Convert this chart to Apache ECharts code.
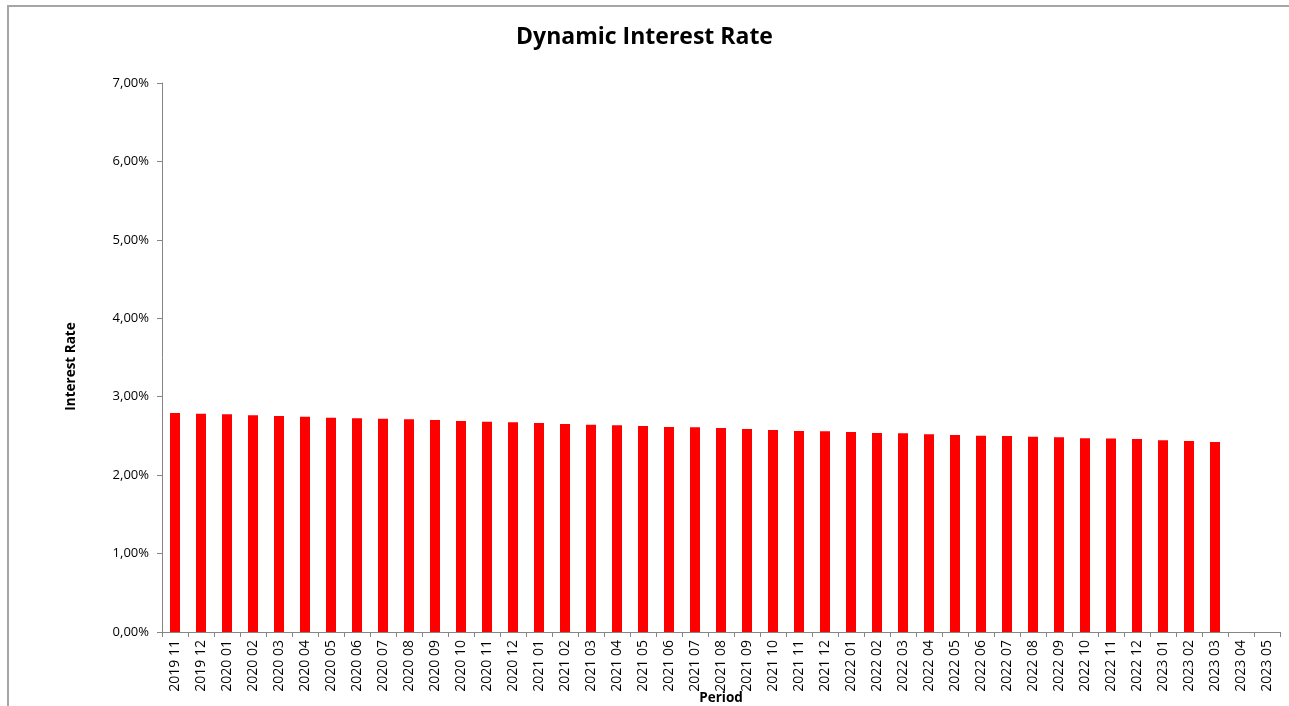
<!DOCTYPE html>
<html>
<head>
<meta charset="utf-8">
<script src="https://cdn.jsdelivr.net/npm/echarts@6/dist/echarts.min.js"></script>
<style>html,body{margin:0;padding:0;background:#fff}#c{width:1289px;height:706px}</style>
</head>
<body>
<div id="c"></div>
<script>
var categories = ["2019 11","2019 12","2020 01","2020 02","2020 03","2020 04","2020 05","2020 06","2020 07","2020 08","2020 09","2020 10","2020 11","2020 12","2021 01","2021 02","2021 03","2021 04","2021 05","2021 06","2021 07","2021 08","2021 09","2021 10","2021 11","2021 12","2022 01","2022 02","2022 03","2022 04","2022 05","2022 06","2022 07","2022 08","2022 09","2022 10","2022 11","2022 12","2023 01","2023 02","2023 03","2023 04","2023 05"];
var rates = [2.792,2.783,2.776,2.763,2.754,2.745,2.732,2.727,2.720,2.712,2.703,2.691,2.682,2.674,2.665,2.652,2.643,2.635,2.627,2.614,2.610,2.601,2.588,2.576,2.563,2.559,2.550,2.537,2.533,2.521,2.512,2.503,2.499,2.490,2.482,2.470,2.468,2.461,2.444,2.435,2.423,null,null];
var yTicks = {min: 0, max: 7, interval: 1};

var font = "'Open Sans', 'Liberation Sans', sans-serif";
var chart = echarts.init(document.getElementById('c'));
chart.setOption({
  animation: false,
  backgroundColor: '#fff',
  graphic: [{
    type: 'rect', z: -1,
    shape: {x: 8, y: 6, width: 1300, height: 720},
    style: {fill: 'none', stroke: '#a6a6a6', lineWidth: 2}
  }],
  title: {
    text: 'Dynamic Interest Rate', left: 'center', top: 21,
    textStyle: {fontFamily: font, fontSize: 23, fontWeight: 'bold', color: '#000'}
  },
  grid: {left: 162, right: 9, top: 83, bottom: 74, containLabel: false, outerBoundsMode: 'none'},
  xAxis: {
    type: 'category', data: categories,
    name: 'Period', nameLocation: 'middle', nameGap: 59, nameMoveOverlap: false,
    nameTextStyle: {fontFamily: font, fontSize: 13.5, fontWeight: 'bold', color: '#000'},
    axisLine: {lineStyle: {color: '#868686', width: 1}},
    axisTick: {show: true, alignWithLabel: false, length: 5, lineStyle: {color: '#868686'}},
    axisLabel: {rotate: 90, interval: 0, fontFamily: font, fontSize: 14, color: '#000', margin: 8}
  },
  yAxis: {
    type: 'value', min: yTicks.min, max: yTicks.max, interval: yTicks.interval,
    name: 'Interest Rate', nameLocation: 'middle', nameGap: 84, nameRotate: 90, nameMoveOverlap: false,
    nameTextStyle: {fontFamily: font, fontSize: 13.5, fontWeight: 'bold', color: '#000', padding: [0, 18, 0, 0]},
    axisLine: {show: true, lineStyle: {color: '#868686', width: 1}},
    axisTick: {show: true, length: 5, lineStyle: {color: '#868686'}},
    splitLine: {show: false},
    axisLabel: {fontFamily: font, fontSize: 13, color: '#000', margin: 13,
      formatter: function (v) { return v.toFixed(2).replace('.', ',') + '%'; }}
  },
  series: [{
    type: 'bar', data: rates, barWidth: 10,
    itemStyle: {color: '#ff0000'}
  }]
});
</script>
</body>
</html>
